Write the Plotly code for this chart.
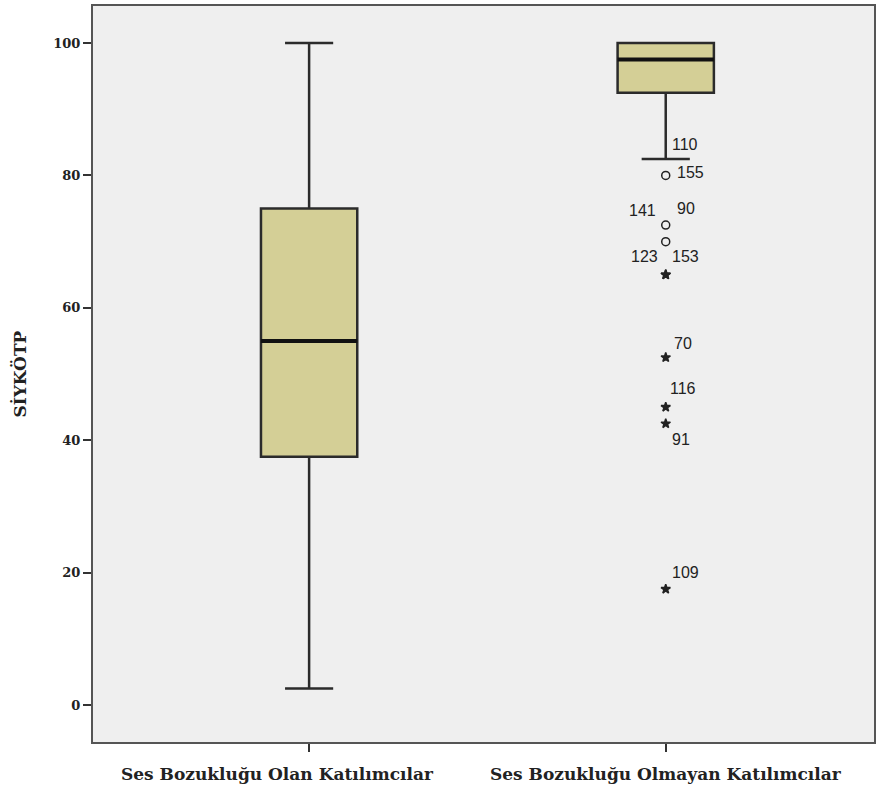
import plotly.graph_objects as go

# Groups and five-number summaries of the SİYKÖTP score
groups = ["Ses Bozukluğu Olan Katılımcılar", "Ses Bozukluğu Olmayan Katılımcılar"]
lower_whisker = [2.5, 82.5]
q1 = [37.5, 92.5]
median = [55, 97.5]
q3 = [75, 100]
upper_whisker = [100, 100]

# Identified cases of the second group (case number, score, marker type)
case_ids = ["110", "155", "141", "90", "123", "153", "70", "116", "91", "109"]
case_vals = [82.5, 80, 72.5, 70, 65, 65, 52.5, 45, 42.5, 17.5]
case_kind = ["o", "o", "o", "o", "*", "*", "*", "*", "*", "*"]

y_ticks = [0, 20, 40, 60, 80, 100]

# label placement for the case numbers: (x shift px, y shift px, anchor)
label_style = {
    "110": (4, 14, "left"), "155": (9, 3, "left"), "141": (-8, 15, "right"),
    "90": (9, 33, "left"), "123": (-6, 18, "right"), "153": (4, 18, "left"),
    "70": (6, 14, "left"), "116": (2, 19, "left"), "91": (4, -16, "left"),
    "109": (4, 17, "left"),
}
# horizontal shift of each group caption below the axis (px)
caption_shift = [-32, 0]

BOX_W = 0.27
FILL = "#d4cf96"
LINE = "#2b2b2b"
SERIF = "DejaVu Serif"

fig = go.Figure()
for i in range(len(groups)):
    fig.add_trace(go.Box(
        x=[i], q1=[q1[i]], median=[median[i]], q3=[q3[i]],
        lowerfence=[lower_whisker[i]], upperfence=[upper_whisker[i]],
        width=BOX_W, whiskerwidth=0.5, fillcolor=FILL,
        line=dict(color=LINE, width=2.5), boxpoints=False,
        hoverinfo="skip", showlegend=False,
    ))
    # heavier median bar
    fig.add_trace(go.Scatter(
        x=[i - BOX_W / 2, i + BOX_W / 2], y=[median[i], median[i]],
        mode="lines", line=dict(color="#111111", width=4),
        hoverinfo="skip", showlegend=False,
    ))
    fig.add_annotation(
        x=i, xref="x", y=0, yref="paper", yanchor="top", yshift=-20,
        xshift=caption_shift[i], text=groups[i], showarrow=False,
        font=dict(family=SERIF, size=17, color="#222222", weight="bold"),
    )

# outlying cases lie below the lower whisker of the second group
grp = 1
for kind, symbol, size in (("o", "circle-open", 8), ("*", "star", 7)):
    ys = [v for v, k in zip(case_vals, case_kind)
          if k == kind and v < lower_whisker[grp]]
    fig.add_trace(go.Scatter(
        x=[grp] * len(ys), y=ys, mode="markers",
        marker=dict(symbol=symbol, size=size, color="#222222",
                    line=dict(color="#222222", width=1.5)),
        hoverinfo="skip", showlegend=False,
    ))

for cid, val in zip(case_ids, case_vals):
    dx, dy, anchor = label_style[cid]
    fig.add_annotation(
        x=grp, y=val, text=cid, showarrow=False,
        xanchor=anchor, yanchor="middle", xshift=dx, yshift=dy,
        font=dict(family="Liberation Sans", size=16, color="#222222"),
    )

fig.add_annotation(
    xref="paper", yref="paper", x=-0.094, y=0.5, text="SİYKÖTP",
    textangle=-90, showarrow=False, xanchor="center", yanchor="middle",
    font=dict(family=SERIF, size=17, color="#222222", weight="bold"),
)

fig.update_layout(
    width=878, height=789,
    margin=dict(l=93, r=2, t=6, b=47),
    paper_bgcolor="white", plot_bgcolor="#efefef",
    xaxis=dict(
        range=[-0.606, 1.584], tickvals=[0, 1], ticktext=["", ""],
        showgrid=False, zeroline=False, showline=True, mirror=True,
        linecolor="#555555", linewidth=2, ticks="outside", ticklen=8,
        tickcolor="#333333", tickwidth=1.5,
    ),
    yaxis=dict(
        range=[-5.6, 105.6], tickvals=y_ticks,
        showgrid=False, zeroline=False, showline=True, mirror=True,
        linecolor="#555555", linewidth=2, ticks="outside", ticklen=8,
        tickcolor="#333333", tickwidth=1.5,
        tickfont=dict(family=SERIF, size=13, color="#222222", weight="bold"),
    ),
)

fig.write_html("out.html")
